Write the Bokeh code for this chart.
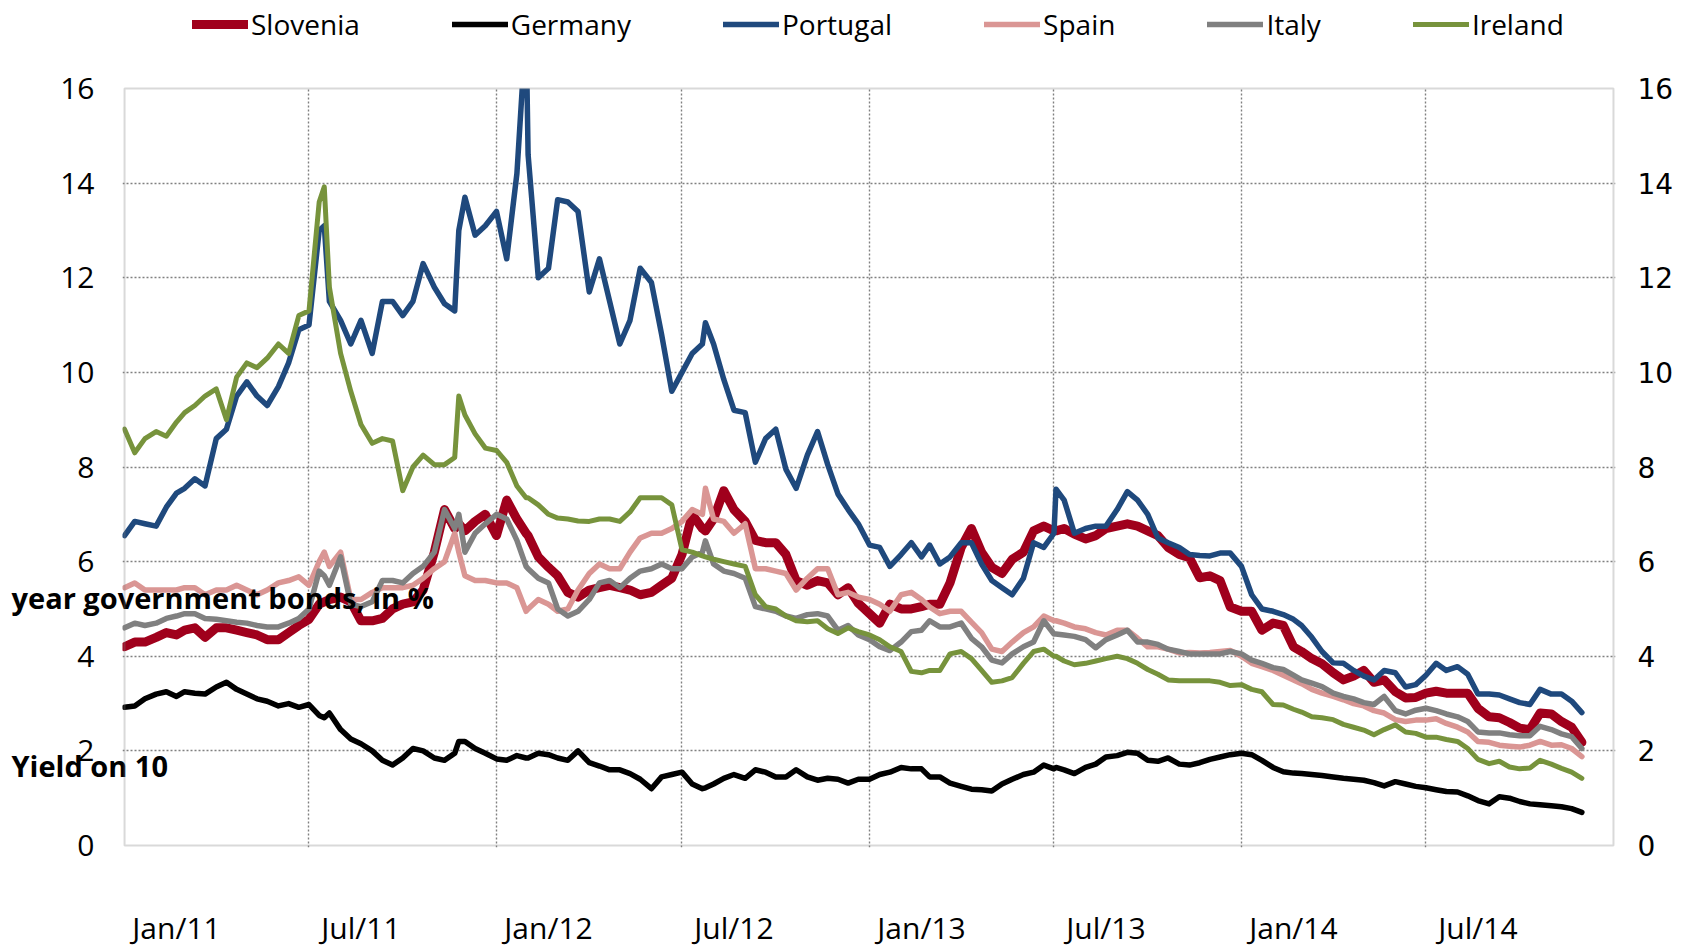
import pandas as pd
from bokeh.plotting import figure
from bokeh.models import (ColumnDataSource, Range1d, LinearAxis, DatetimeAxis, FixedTicker,
                          Legend, LegendItem, Label, BoxAnnotation)
from bokeh.embed import file_html
from bokeh.resources import INLINE

# ---------------- data ----------------
SAMPLE_DAYS = (1, 11, 21)
EXTRA_DATES = ["2011-07-16", "2011-11-25", "2012-01-30", "2012-07-24", "2013-07-03"]
FIRST_DATE = "2011-01-01"
LAST_DATE = "2014-12-01"
AXIS_END = "2015-01-01"

SERIES_NAMES = ["Slovenia", "Germany", "Portugal", "Spain", "Italy", "Ireland"]

SLOVENIA = [
    4.2, 4.3, 4.3, 4.4, 4.5, 4.45, 4.55, 4.6, 4.4, 4.6, 4.6, 4.55, 4.5, 4.45, 4.35, 4.35, 4.5, 4.65,
    4.78, 5.1, 5.15, 5.2, 5.25, 5.15, 4.75, 4.75, 4.8, 5.0, 5.1, 5.15, 5.4, 6.2, 7.1, 6.7, 6.8, 6.65, 6.85, 7.0,
    6.55, 7.3, 6.9, 6.6, 6.55, 6.1, 5.88, 5.7, 5.35, 5.25, 5.4, 5.45, 5.5, 5.45, 5.4, 5.3, 5.35, 5.5, 5.65,
    6.15, 7.0, 6.7, 6.65, 6.9, 7.5, 7.1, 6.85, 6.45, 6.4, 6.4, 6.15, 5.6, 5.5, 5.6, 5.55, 5.3, 5.45, 5.12,
    4.9, 4.7, 5.1, 5.0, 5.0, 5.05, 5.1, 5.1, 5.55, 6.3, 6.7, 6.2, 5.88, 5.75, 6.05, 6.2, 6.65, 6.75,
    6.65, 6.65, 6.7, 6.58, 6.48, 6.55, 6.7, 6.75, 6.8, 6.75, 6.65, 6.55, 6.3, 6.15, 6.08, 5.66, 5.7, 5.6, 5.04,
    4.95, 4.95, 4.55, 4.7, 4.65, 4.2, 4.1, 3.95, 3.84, 3.65, 3.5, 3.58, 3.7, 3.45, 3.5, 3.25, 3.12, 3.13,
    3.22, 3.26, 3.22, 3.22, 3.22, 2.9, 2.72, 2.7, 2.6, 2.48, 2.45, 2.8, 2.78, 2.62, 2.5, 2.18,
]
GERMANY = [
    2.92, 2.95, 3.1, 3.2, 3.25, 3.15, 3.25, 3.22, 3.2, 3.35, 3.45, 3.3, 3.2, 3.1, 3.05, 2.95, 3.0, 2.92,
    2.98, 2.75, 2.7, 2.8, 2.45, 2.25, 2.15, 2.0, 1.8, 1.7, 1.85, 2.05, 2.0, 1.85, 1.8, 1.95, 2.2, 2.2, 2.05, 1.95,
    1.83, 1.8, 1.9, 1.85, 1.85, 1.95, 1.92, 1.85, 1.8, 2.0, 1.75, 1.68, 1.6, 1.6, 1.52, 1.4, 1.2, 1.45, 1.5,
    1.55, 1.3, 1.2, 1.22, 1.3, 1.42, 1.5, 1.42, 1.6, 1.55, 1.45, 1.45, 1.6, 1.45, 1.38, 1.42, 1.4, 1.32, 1.4,
    1.4, 1.5, 1.55, 1.65, 1.62, 1.62, 1.45, 1.45, 1.32, 1.25, 1.19, 1.18, 1.15, 1.3, 1.4, 1.5, 1.55, 1.7,
    1.62, 1.65, 1.6, 1.52, 1.65, 1.72, 1.87, 1.9, 1.97, 1.95, 1.8, 1.78, 1.85, 1.72, 1.7, 1.75, 1.82, 1.87, 1.92,
    1.95, 1.92, 1.8, 1.65, 1.56, 1.53, 1.52, 1.5, 1.48, 1.45, 1.42, 1.4, 1.38, 1.33, 1.26, 1.35, 1.3, 1.25,
    1.22, 1.18, 1.14, 1.13, 1.05, 0.95, 0.88, 1.03, 1.0, 0.93, 0.88, 0.86, 0.84, 0.82, 0.78, 0.7,
]
PORTUGAL = [
    6.55, 6.85, 6.8, 6.75, 7.15, 7.45, 7.55, 7.75, 7.6, 8.6, 8.8, 9.5, 9.8, 9.5, 9.3, 9.7, 10.2, 10.9,
    11.0, 13.0, 13.1, 11.5, 11.1, 10.6, 11.1, 10.4, 11.5, 11.5, 11.2, 11.5, 12.3, 11.8, 11.45, 11.3, 13.0, 13.7, 12.9, 13.1,
    13.4, 12.4, 14.2, 17.3, 14.6, 12.0, 12.2, 13.65, 13.6, 13.4, 11.7, 12.4, 11.5, 10.6, 11.1, 12.2, 11.9, 10.8, 9.6,
    10.0, 10.4, 10.6, 11.05, 10.6, 9.85, 9.2, 9.15, 8.1, 8.6, 8.8, 7.95, 7.55, 8.25, 8.75, 8.05, 7.43, 7.1, 6.8,
    6.35, 6.3, 5.9, 6.15, 6.4, 6.1, 6.35, 5.95, 6.1, 6.4, 6.4, 5.95, 5.6, 5.45, 5.3, 5.65, 6.4, 6.3,
    6.6, 7.53, 7.3, 6.6, 6.7, 6.75, 6.75, 7.1, 7.48, 7.3, 7.0, 6.5, 6.4, 6.3, 6.15, 6.13, 6.12, 6.18, 6.18,
    5.9, 5.3, 5.0, 4.95, 4.88, 4.78, 4.65, 4.4, 4.1, 3.86, 3.85, 3.7, 3.58, 3.5, 3.7, 3.65, 3.35, 3.4,
    3.6, 3.85, 3.7, 3.78, 3.62, 3.2, 3.2, 3.18, 3.1, 3.02, 2.98, 3.3, 3.2, 3.2, 3.05, 2.81,
]
SPAIN = [
    5.45, 5.55, 5.4, 5.4, 5.4, 5.4, 5.45, 5.45, 5.3, 5.4, 5.4, 5.5, 5.4, 5.3, 5.4, 5.55, 5.6, 5.68,
    5.5, 6.0, 6.2, 5.9, 6.2, 5.2, 5.2, 5.35, 5.45, 5.45, 5.45, 5.5, 5.65, 5.85, 6.0, 6.6, 6.2, 5.7, 5.6, 5.6,
    5.55, 5.55, 5.45, 4.95, 5.0, 5.2, 5.1, 4.95, 5.0, 5.4, 5.75, 5.95, 5.85, 5.85, 6.2, 6.5, 6.6, 6.6, 6.7,
    6.85, 7.1, 7.0, 7.55, 6.9, 6.85, 6.6, 6.8, 5.85, 5.85, 5.8, 5.75, 5.4, 5.65, 5.85, 5.85, 5.3, 5.35, 5.25,
    5.2, 5.1, 4.95, 5.3, 5.35, 5.2, 5.04, 4.9, 4.95, 4.95, 4.72, 4.5, 4.15, 4.1, 4.3, 4.5, 4.62, 4.85,
    4.75, 4.75, 4.7, 4.62, 4.58, 4.5, 4.45, 4.55, 4.55, 4.38, 4.2, 4.2, 4.15, 4.07, 4.08, 4.07, 4.08, 4.1, 4.12,
    4.0, 3.85, 3.78, 3.7, 3.6, 3.5, 3.42, 3.3, 3.22, 3.15, 3.08, 3.0, 2.95, 2.85, 2.8, 2.66, 2.62, 2.65,
    2.65, 2.68, 2.58, 2.5, 2.4, 2.2, 2.18, 2.12, 2.1, 2.08, 2.12, 2.2, 2.12, 2.13, 2.05, 1.88,
]
ITALY = [
    4.6, 4.7, 4.65, 4.7, 4.8, 4.85, 4.9, 4.9, 4.8, 4.78, 4.75, 4.72, 4.7, 4.65, 4.62, 4.62, 4.7, 4.8,
    5.0, 5.8, 5.7, 5.5, 6.1, 5.1, 5.05, 5.15, 5.6, 5.6, 5.55, 5.75, 5.9, 6.2, 7.1, 6.7, 7.0, 6.2, 6.6, 6.8,
    7.0, 6.9, 6.45, 5.9, 5.85, 5.65, 5.55, 5.0, 4.85, 4.95, 5.2, 5.55, 5.6, 5.45, 5.65, 5.8, 5.85, 5.95, 5.85,
    5.85, 6.1, 6.2, 6.44, 5.95, 5.8, 5.75, 5.65, 5.05, 5.0, 4.95, 4.85, 4.8, 4.88, 4.9, 4.85, 4.55, 4.65, 4.45,
    4.35, 4.2, 4.12, 4.3, 4.52, 4.55, 4.75, 4.62, 4.62, 4.7, 4.38, 4.2, 3.92, 3.86, 4.05, 4.2, 4.3, 4.75,
    4.47, 4.47, 4.45, 4.42, 4.35, 4.18, 4.35, 4.45, 4.55, 4.3, 4.3, 4.25, 4.15, 4.1, 4.05, 4.05, 4.05, 4.05, 4.1,
    4.05, 3.92, 3.85, 3.76, 3.72, 3.6, 3.5, 3.43, 3.36, 3.22, 3.15, 3.1, 3.02, 2.98, 3.15, 2.85, 2.78, 2.86,
    2.9, 2.85, 2.78, 2.72, 2.62, 2.4, 2.38, 2.38, 2.34, 2.32, 2.32, 2.52, 2.45, 2.36, 2.3, 2.05,
]
IRELAND = [
    8.8, 8.3, 8.6, 8.75, 8.65, 8.95, 9.15, 9.3, 9.5, 9.65, 9.0, 9.9, 10.2, 10.1, 10.3, 10.6, 10.4, 11.2,
    11.3, 13.6, 13.92, 11.8, 10.4, 9.6, 8.9, 8.5, 8.6, 8.55, 7.5, 8.0, 8.25, 8.05, 8.05, 8.2, 9.5, 9.1, 8.7, 8.4,
    8.35, 8.1, 7.6, 7.35, 7.35, 7.2, 7.0, 6.92, 6.9, 6.86, 6.85, 6.9, 6.9, 6.85, 7.05, 7.35, 7.35, 7.35, 7.2,
    6.25, 6.2, 6.12, 6.1, 6.05, 6.0, 5.95, 5.9, 5.3, 5.05, 5.0, 4.85, 4.75, 4.73, 4.75, 4.58, 4.48, 4.6, 4.52,
    4.45, 4.35, 4.2, 4.1, 3.68, 3.65, 3.7, 3.7, 4.05, 4.1, 3.95, 3.7, 3.45, 3.48, 3.55, 3.85, 4.1, 4.15,
    4.0, 4.0, 3.9, 3.82, 3.85, 3.9, 3.95, 4.0, 3.95, 3.85, 3.72, 3.62, 3.5, 3.48, 3.48, 3.48, 3.48, 3.45, 3.38,
    3.4, 3.3, 3.25, 2.98, 2.97, 2.88, 2.82, 2.72, 2.7, 2.66, 2.56, 2.5, 2.44, 2.34, 2.45, 2.55, 2.4, 2.37,
    2.29, 2.29, 2.24, 2.2, 2.05, 1.82, 1.73, 1.78, 1.66, 1.62, 1.64, 1.8, 1.72, 1.63, 1.55, 1.42,
]

COLORS = ["#A0001C", "#000000", "#1F497D", "#DA9694", "#808080", "#77933C"]
WIDTHS = [9, 5.5, 5.5, 5.5, 5.5, 5]

TICK_LABELS = ["Jan/11", "Jul/11", "Jan/12", "Jul/12", "Jan/13", "Jul/13", "Jan/14", "Jul/14"]
TICK_MONTHS = ["2011-01-01", "2011-07-01", "2012-01-01", "2012-07-01",
               "2013-01-01", "2013-07-01", "2014-01-01", "2014-07-01"]
Y_TICKS = [0, 2, 4, 6, 8, 10, 12, 14, 16]
Y_MAX = 16
TITLE_UPPER = "year government  bonds, in %"
TITLE_LOWER = "Yield on 10"

# ---------------- build ----------------
last = pd.Timestamp(LAST_DATE)
dates = [pd.Timestamp(y, m, d) for y in range(2011, 2015) for m in range(1, 13)
         for d in SAMPLE_DAYS if pd.Timestamp(y, m, d) <= last]
dates = sorted(dates + [pd.Timestamp(s) for s in EXTRA_DATES])

values = [SLOVENIA, GERMANY, PORTUGAL, SPAIN, ITALY, IRELAND]
for v in values:
    assert len(v) == len(dates), (len(v), len(dates))

data = {"date": dates}
for n, v in zip(SERIES_NAMES, values):
    data[n] = v
source = ColumnDataSource(data)


def ms(ts):
    return float(pd.Timestamp(ts).value // 10**6)


LABEL_OFFSET = pd.Timedelta(days=51)
tick_pos = [ms(pd.Timestamp(t) + LABEL_OFFSET) for t in TICK_MONTHS]
grid_pos = [ms(t) for t in TICK_MONTHS[1:]]

# ---------------- layout geometry (pixels) ----------------
W, H = 1691, 950
BOX_TOP, BOX_BOTTOM = 88, 845          # where the 16 and 0 lines sit
FRAME_LEFT, FRAME_RIGHT, FRAME_BOTTOM = 122, 1615, 847
px_per_unit = (BOX_BOTTOM - BOX_TOP) / Y_MAX
y_lo = -(FRAME_BOTTOM - BOX_BOTTOM) / px_per_unit
y_hi = BOX_BOTTOM / px_per_unit          # frame reaches the top of the canvas
x_pad = pd.Timedelta(days=2)

FONT = "Open Sans"

p = figure(width=W, height=H, x_axis_type="datetime", x_axis_location=None,
           x_range=Range1d(ms(pd.Timestamp(FIRST_DATE) - x_pad), ms(pd.Timestamp(AXIS_END) + x_pad)),
           y_range=Range1d(y_lo, y_hi),
           output_backend="svg", toolbar_location=None,
           min_border_left=FRAME_LEFT, min_border_right=W - FRAME_RIGHT,
           min_border_top=0, min_border_bottom=H - FRAME_BOTTOM)
p.background_fill_color = "white"
p.border_fill_color = "white"
p.outline_line_color = None

renderers = []
for n, c, w in zip(SERIES_NAMES, COLORS, WIDTHS):
    r = p.line("date", n, source=source, line_color=c, line_width=w,
               line_join="round", line_cap="round")
    renderers.append(r)

# white cover above the 16 line (the chart is cut at 16), then the plot box
p.add_layout(BoxAnnotation(bottom=Y_MAX, fill_color="white", fill_alpha=1.0,
                           line_alpha=0.0))
p.add_layout(BoxAnnotation(left=ms(FIRST_DATE), right=ms(AXIS_END), bottom=0, top=Y_MAX,
                           fill_alpha=0.0, line_color="#808080", line_width=2))


def title_label(text, y):
    return Label(x=-111, y=y, x_units="screen", y_units="screen", text=text,
                 text_font=FONT, text_font_style="bold", text_font_size="29px",
                 text_baseline="middle", text_align="left", text_color="black")


# broken axis title: both parts live in the bottom panel and are lifted up into place
p.add_layout(title_label(TITLE_LOWER, 121), "below")
p.add_layout(title_label(TITLE_UPPER, 328), "below")

# ---- x axis (last in the bottom panel; labels pulled up with a negative standoff)
xa = DatetimeAxis(ticker=FixedTicker(ticks=tick_pos))
xa.major_label_overrides = {t: l for t, l in zip(tick_pos, TICK_LABELS)}
xa.major_label_text_font = FONT
xa.major_label_text_font_size = "30px"
xa.major_label_text_color = "black"
xa.major_label_standoff = -19
xa.major_tick_out = 0
xa.major_tick_in = 0
xa.major_tick_line_color = None
xa.minor_tick_line_color = None
xa.axis_line_color = None
p.add_layout(xa, "below")

# ---- y axes
ya = p.yaxis[0]
ya.ticker = FixedTicker(ticks=Y_TICKS)
ya.major_label_text_font = FONT
ya.major_label_text_font_size = "30px"
ya.major_label_text_color = "black"
ya.major_label_standoff = 28
ya.major_tick_out = 0
ya.major_tick_in = 0
ya.major_tick_line_color = None
ya.minor_tick_line_color = None
ya.axis_line_color = None

yr = LinearAxis(ticker=FixedTicker(ticks=Y_TICKS))
yr.major_label_text_font = "DejaVu Sans"
yr.major_label_text_font_size = "28px"
yr.major_label_text_color = "black"
yr.major_label_standoff = 22
yr.major_tick_out = 0
yr.major_tick_in = 0
yr.major_tick_line_color = None
yr.minor_tick_line_color = None
yr.axis_line_color = None
p.add_layout(yr, "right")

# ---- grid
p.xgrid.ticker = FixedTicker(ticks=grid_pos)
p.ygrid.ticker = FixedTicker(ticks=Y_TICKS[1:-1])
for g in (p.xgrid[0], p.ygrid[0]):
    g.grid_line_color = "#808080"
    g.grid_line_dash = "2 2"
    g.grid_line_width = 1.4

# ---- legend (inside the tall frame, above the plot box)
items = [LegendItem(label=n, renderers=[r]) for n, r in zip(SERIES_NAMES, renderers)]
legend = Legend(items=items, orientation="horizontal", location=(70, 804),
                glyph_width=56, glyph_height=30, label_standoff=3, spacing=92,
                padding=0, margin=0, border_line_color=None,
                background_fill_alpha=0,
                label_text_font=FONT, label_text_font_size="28px",
                label_text_color="black")
p.add_layout(legend)

open("out.html", "w").write(file_html(p, INLINE))
